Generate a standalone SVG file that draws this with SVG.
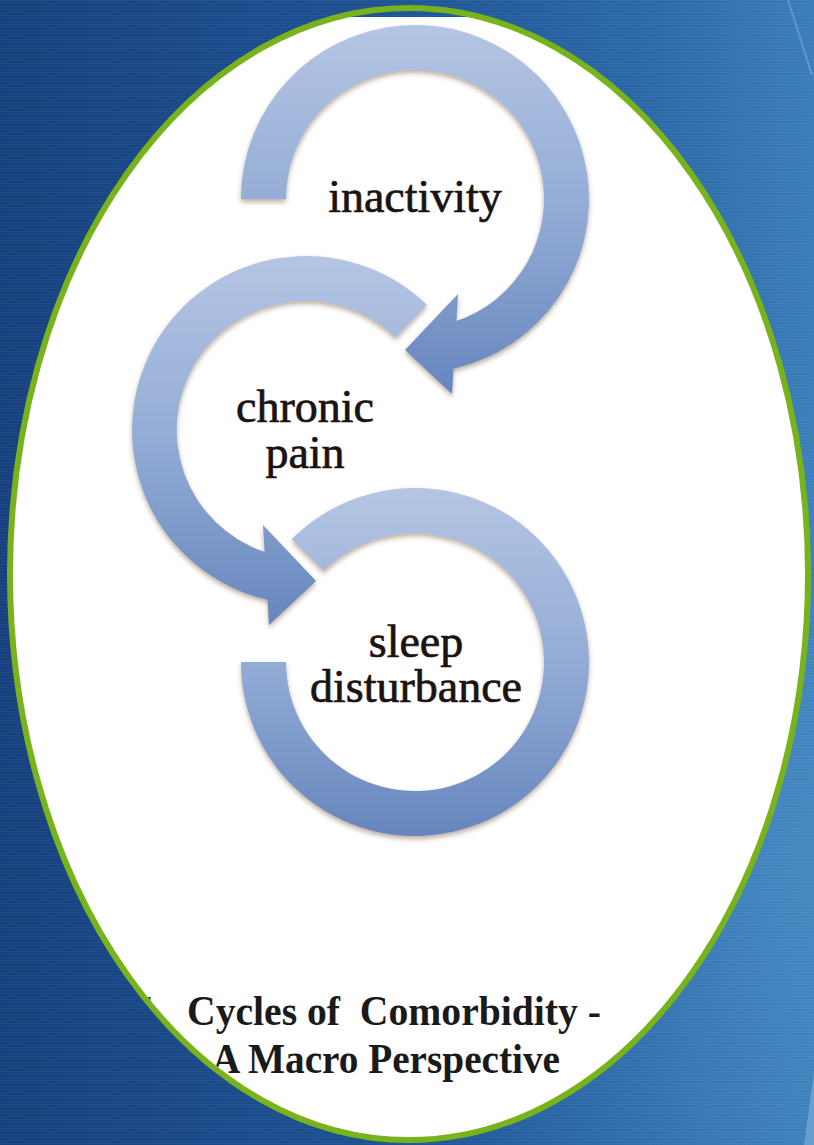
<svg xmlns="http://www.w3.org/2000/svg" width="814" height="1145" viewBox="0 0 814 1145">
  <style>
    .ring { fill: url(#ringGrad); filter: url(#shadow); }
    .label { font-family: "Liberation Serif", "Times New Roman", serif; font-size: 46px; fill: #1b1212; stroke: #1b1212; stroke-width: 0.7px; text-anchor: middle; }
    .title { font-family: "Liberation Serif", "Times New Roman", serif; font-size: 43px; font-weight: bold; fill: #1a1a1a; }
  </style>
  <defs>
    <linearGradient id="bgGrad" x1="0" y1="0" x2="1" y2="0">
      <stop offset="0" stop-color="#17417e"/>
      <stop offset="0.45" stop-color="#1d5192"/>
      <stop offset="0.8" stop-color="#2c69a8"/>
      <stop offset="1" stop-color="#3a7db8"/>
    </linearGradient>
    <radialGradient id="glow" cx="0.95" cy="0.75" r="0.45">
      <stop offset="0" stop-color="#5aa0d4" stop-opacity="0.35"/>
      <stop offset="1" stop-color="#5aa0d4" stop-opacity="0"/>
    </radialGradient>
    <pattern id="stripes" x="0" y="0" width="8" height="3" patternUnits="userSpaceOnUse">
      <rect x="0" y="0" width="8" height="1" fill="#ffffff" fill-opacity="0.04"/>
    </pattern>
    <linearGradient id="ringGrad" x1="0" y1="0" x2="0" y2="1">
      <stop offset="0" stop-color="#b5c5e3"/>
      <stop offset="0.5" stop-color="#93acd6"/>
      <stop offset="1" stop-color="#6686bd"/>
    </linearGradient>
    <filter id="shadow" x="-10%" y="-10%" width="120%" height="125%">
      <feDropShadow dx="0" dy="3" stdDeviation="2.5" flood-color="#6b4a2a" flood-opacity="0.45"/>
    </filter>
    <clipPath id="ellClip">
      <ellipse cx="409" cy="574" rx="396" ry="563"/>
    </clipPath>
    <clipPath id="topCut">
      <rect x="0" y="17" width="814" height="1128"/>
    </clipPath>
  </defs>

  <g id="background">
    <rect x="0" y="0" width="814" height="1145" fill="url(#bgGrad)"/>
    <rect x="0" y="0" width="814" height="1145" fill="url(#glow)"/>
    <rect x="0" y="0" width="814" height="1145" fill="url(#stripes)"/>
    <path d="M788,0 L812,75" stroke="#8cb8e2" stroke-opacity="0.45" stroke-width="2" fill="none"/>
    <path d="M814,1072 L804,1145 L814,1145 Z" fill="#7fb2e0" fill-opacity="0.6"/>
  </g>

  <g id="frame">
    <ellipse cx="409" cy="574" rx="399" ry="566" fill="#ffffff" clip-path="url(#topCut)"/>
    <ellipse cx="409" cy="574" rx="399" ry="566" fill="none" stroke="#78b31c" stroke-width="6"/>
  </g>

  <g id="connectors">
    <path id="arrow-inactivity" class="ring" d="M241,199 A174,174 0 1 1 453.5,368.7 L452,394 L405,350 L458,294 L456.4,321 A129,129 0 1 0 286,199 Z"/>
    <path id="arrow-chronic-pain" class="ring" d="M426.9,304.8 A174,174 0 1 0 267.5,599.7 L269,625 L316,581 L263,525 L264.6,552 A129,129 0 1 1 395.6,337.2 Z"/>
    <path id="arrow-sleep" class="ring" d="M291.96,538.96 A174,174 0 1 1 241,662 L286,662 A129,129 0 1 0 323.8,570.8 Z"/>
  </g>

  <g id="node-inactivity">
    <text class="label" x="415" y="212">inactivity</text>
  </g>
  <g id="node-chronic-pain">
    <text class="label" x="305" y="422">chronic</text>
    <text class="label" x="305" y="468">pain</text>
  </g>
  <g id="node-sleep-disturbance">
    <text class="label" x="416" y="657">sleep</text>
    <text class="label" x="416" y="702">disturbance</text>
  </g>

  <g id="title" clip-path="url(#ellClip)">
    <text class="title" y="1025"><tspan x="136">1.</tspan><tspan x="187" textLength="414" lengthAdjust="spacingAndGlyphs" xml:space="preserve">Cycles of  Comorbidity -</tspan></text>
    <text class="title" x="212" y="1073" textLength="348" lengthAdjust="spacingAndGlyphs">A Macro Perspective</text>
  </g>
</svg>
